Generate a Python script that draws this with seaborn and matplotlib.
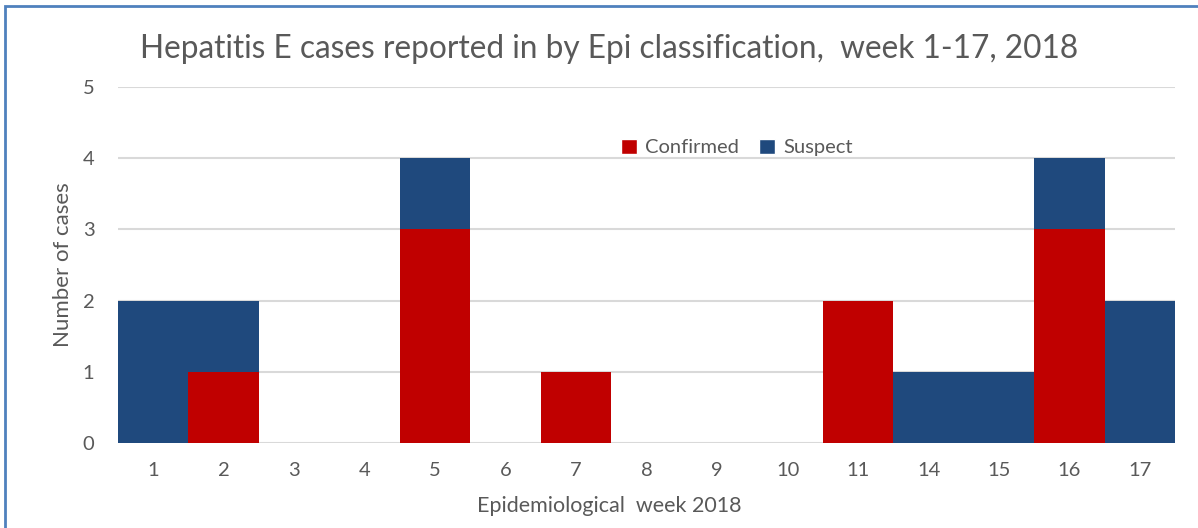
import matplotlib
matplotlib.use("Agg")
import matplotlib.pyplot as plt
from matplotlib.patches import Rectangle, Patch
import pandas as pd
import seaborn as sns

weeks = ["1", "2", "3", "4", "5", "6", "7", "8", "9", "10", "11", "14", "15", "16", "17"]
confirmed = [0, 1, 0, 0, 3, 0, 1, 0, 0, 0, 2, 0, 0, 3, 0]
suspect = [2, 1, 0, 0, 1, 0, 0, 0, 0, 0, 0, 1, 1, 1, 2]

red = "#c00000"
blue = "#1f497d"
text_col = "#595959"

df = pd.DataFrame({"week": weeks, "confirmed": confirmed, "suspect": suspect})
df["total"] = df["confirmed"] + df["suspect"]

sns.set_style("white")
plt.rcParams["font.family"] = ["Lato", "DejaVu Sans"]

fig = plt.figure(figsize=(11.98, 5.28), dpi=100)
ax = fig.add_axes([0.0985, 0.161, 0.8825, 0.674])

# suspect stacked on top of confirmed
sns.barplot(data=df, x="week", y="total", color=blue, width=1.0, ax=ax,
            linewidth=0, saturation=1)
sns.barplot(data=df, x="week", y="confirmed", color=red, width=1.0, ax=ax,
            linewidth=0, saturation=1)

ax.set_xlim(-0.5, len(weeks) - 0.5)
ax.set_ylim(0, 5)
ax.set_yticks(range(6))
ax.yaxis.grid(True, color="#d9d9d9", linewidth=1.5)
ax.set_axisbelow(True)
for s in ax.spines.values():
    s.set_visible(False)
ax.tick_params(axis="both", length=0, labelsize=14.5, colors=text_col)
ax.tick_params(axis="x", pad=14)
ax.tick_params(axis="y", pad=17)

ax.set_xlabel("Epidemiological  week 2018", fontsize=15.5, color=text_col)
ax.xaxis.set_label_coords(0.465, -0.15)
ax.set_ylabel("Number of cases", fontsize=16, color=text_col)
ax.yaxis.set_label_coords(-0.043, 0.5)

fig.text(0.508, 0.907, "Hepatitis E cases reported in by Epi classification,  week 1-17, 2018",
         ha="center", va="center", fontsize=22.8, color=text_col)

handles = [Patch(facecolor=red), Patch(facecolor=blue)]
ax.legend(handles, ["Confirmed", "Suspect"], loc="center", bbox_to_anchor=(0.585, 0.83),
          ncol=2, frameon=False, fontsize=14.5, labelcolor=text_col,
          handlelength=0.8, handleheight=0.8, handletextpad=0.4, columnspacing=1.0)

fig.patches.append(Rectangle((0.0045, -0.1), 1.2, 1.0886, transform=fig.transFigure,
                             fill=False, edgecolor="#4f81bd", linewidth=2))

fig.savefig("out.png", dpi=100)
